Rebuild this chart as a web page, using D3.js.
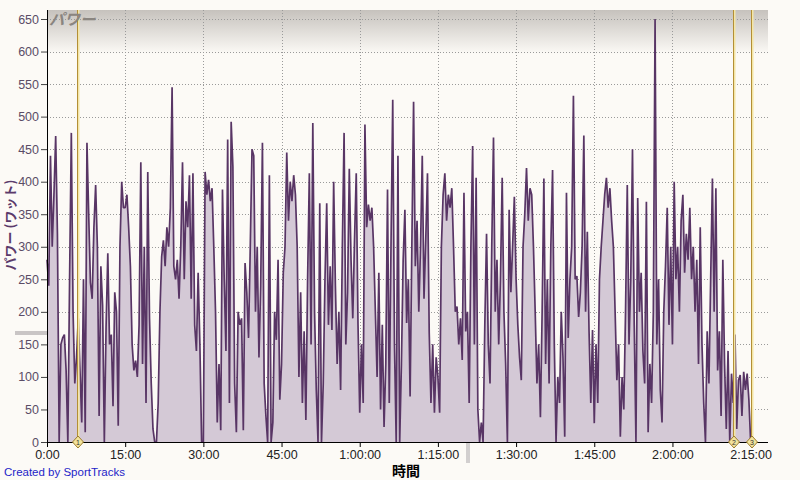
<!DOCTYPE html>
<html>
<head>
<meta charset="utf-8">
<script src="https://cdn.jsdelivr.net/npm/d3@7"></script>
<style>
  body { margin: 0; background: #fcfaf6; }
  svg { display: block; }
</style>
</head>
<body>
<script>
'use strict';

// power (watts), one sample every 20 s, one array per 15 minute block
const SAMPLE_SEC = 20;
const watts0 = [280,240,440,300,380,470,320,0,150,160,165,110,0,250,475,200,90,130,190,110,30,250,15,460,350,245,220,330,395,300,40,270,210,0,177,290,150,165,55,230,200,25,300,400,360];
const watts1 = [360,380,330,270,150,110,125,100,180,430,120,300,60,415,190,90,20,0,0,60,200,285,310,270,330,300,360,545,270,250,280,220,300,430,250,370,330,410,220,413,180,140,260,150,0];
const watts2 = [0,415,380,403,370,390,300,200,30,120,18,388,250,140,465,60,492,423,90,15,200,180,190,18,275,230,160,300,450,440,200,300,130,240,460,90,40,0,410,0,30,200,157,280,65];
const watts3 = [120,260,300,445,340,400,370,410,380,300,100,230,60,170,34,250,413,150,490,200,80,0,367,0,90,250,367,180,270,172,400,240,120,200,80,300,475,150,230,420,280,190,310,413,183];
const watts4 = [45,150,60,488,330,365,340,360,300,200,100,260,50,180,23,120,388,60,300,526,150,0,440,0,120,280,357,183,250,70,300,523,270,340,200,300,440,220,310,413,168,60,150,45,130];
const watts5 = [100,45,300,380,413,340,380,360,390,300,200,208,150,190,126,383,170,200,60,300,455,150,406,50,0,30,0,180,320,150,90,300,468,200,280,150,250,406,200,120,0,357,230,300,377];
const watts6 = [250,180,130,95,300,350,421,340,390,380,300,200,90,150,38,200,405,120,250,90,300,418,150,0,100,60,200,130,8,383,160,250,300,532,250,255,192,230,300,471,200,323,170,60,172];
const watts7 = [29,150,60,250,300,340,380,406,360,390,340,300,200,95,150,8,100,50,200,395,150,250,450,180,0,375,200,260,140,90,369,15,120,60,200,650,150,250,80,30,200,270,360,180,300];
const watts8 = [150,400,250,300,200,340,380,260,320,280,360,250,300,200,280,120,330,150,60,0,170,90,250,405,200,390,110,170,40,280,120,20,140,0,105,60,165,20,95,103,40,108,80,105,65,0];

// lap markers (seconds) and their numbers
const lapSeconds = [345, 7900, 8105];
const lapNames = ["1", "2", "3"];

// axis ticks
const yTicks = [0, 50, 100, 150, 200, 250, 300, 350, 400, 450, 500, 550, 600, 650];
const xTicks = [0, 900, 1800, 2700, 3600, 4500, 5400, 6300, 7200, 8100];
const xTickLabels = ["0:00", "15:00", "30:00", "45:00", "1:00:00", "1:15:00", "1:30:00", "1:45:00", "2:00:00", "2:15:00"];

const m = {
    width: 800,
    height: 480,
    left: 47,
    right: 768,
    top: 10,
    bottom: 442
}

const power = [watts0, watts1, watts2, watts3, watts4, watts5, watts6, watts7, watts8]
  .flat()
  .map((w, i) => ({ t: i * SAMPLE_SEC, w: w }));

const svg = d3.select('body')
  .append('svg')
  .attr('width', m.width)
  .attr('height', m.height);

const xScale = d3.scaleLinear()
  .domain([0, 8300])
  .range([m.left, m.right]);

const yScale = d3.scaleLinear()
  .domain([0, 650])
  .range([m.bottom, 19]);

// grey gradient across the top of the plot
const defs = svg.append('defs');
const grad = defs.append('linearGradient')
  .attr('id', 'head')
  .attr('x1', 0).attr('y1', 0).attr('x2', 0).attr('y2', 1);
grad.append('stop').attr('offset', '0%').attr('stop-color', '#c6c2bd');
grad.append('stop').attr('offset', '100%').attr('stop-color', '#fcfaf6');

svg.append('rect')
  .attr('x', m.left)
  .attr('y', m.top)
  .attr('width', m.right - m.left)
  .attr('height', 44)
  .attr('fill', 'url(#head)');

// dotted grid
svg.append('g')
  .selectAll('line')
  .data(yTicks.slice(1))
  .enter()
  .append('line')
  .attr('x1', m.left)
  .attr('x2', m.right)
  .attr('y1', d => Math.round(yScale(d)) + 0.5)
  .attr('y2', d => Math.round(yScale(d)) + 0.5)
  .attr('stroke', '#9a9a9a')
  .attr('stroke-dasharray', '1,2');

svg.append('g')
  .selectAll('line')
  .data(xTicks.slice(1))
  .enter()
  .append('line')
  .attr('x1', d => Math.round(xScale(d)) + 0.5)
  .attr('x2', d => Math.round(xScale(d)) + 0.5)
  .attr('y1', m.top)
  .attr('y2', m.bottom)
  .attr('stroke', '#9a9a9a')
  .attr('stroke-dasharray', '1,2');

// area + line of power
const area = d3.area()
  .x(d => xScale(d.t))
  .y0(yScale(0))
  .y1(d => yScale(d.w));

const line = d3.line()
  .x(d => xScale(d.t))
  .y(d => yScale(d.w));

svg.append('path')
  .datum(power)
  .attr('d', area)
  .attr('fill', '#d4c9d6');

svg.append('path')
  .datum(power)
  .attr('d', line)
  .attr('fill', 'none')
  .attr('stroke', '#583565')
  .attr('stroke-width', 1.7)
  .attr('stroke-linejoin', 'bevel');

// lap marker lines
const laps = svg.append('g');
laps.selectAll('.halo')
  .data(lapSeconds)
  .enter()
  .append('line')
  .attr('x1', d => Math.round(xScale(d)) + 1.5)
  .attr('x2', d => Math.round(xScale(d)) + 1.5)
  .attr('y1', m.top)
  .attr('y2', m.bottom)
  .attr('stroke', '#f4e6a6')
  .attr('stroke-width', 2);
laps.selectAll('.lap')
  .data(lapSeconds)
  .enter()
  .append('line')
  .attr('x1', d => Math.round(xScale(d)) + 0.5)
  .attr('x2', d => Math.round(xScale(d)) + 0.5)
  .attr('y1', m.top)
  .attr('y2', m.bottom)
  .attr('stroke', '#b38f36')
  .attr('stroke-width', 1);

// y axis
const yAxis = d3.axisLeft(yScale).tickValues(yTicks).tickSize(6).tickPadding(2).tickSizeOuter(0);
const gy = svg.append('g')
  .attr('transform', 'translate(' + m.left + ',0)')
  .call(yAxis);
gy.select('.domain').remove();
gy.selectAll('text')
  .style('font-family', '"Liberation Sans", Arial, sans-serif')
  .style('font-size', '12.5px')
  .attr('fill', '#5a4c66');
gy.selectAll('line').attr('stroke', '#444');

svg.append('line')
  .attr('x1', m.left + 0.5).attr('x2', m.left + 0.5)
  .attr('y1', m.top).attr('y2', m.bottom + 5)
  .attr('stroke', '#000');

// x axis
const xAxis = d3.axisBottom(xScale)
  .tickValues(xTicks)
  .tickFormat((d, i) => xTickLabels[i])
  .tickSize(5)
  .tickPadding(3)
  .tickSizeOuter(0);
const gx = svg.append('g')
  .attr('transform', 'translate(0,' + m.bottom + ')')
  .call(xAxis);
gx.select('.domain').remove();
gx.selectAll('text')
  .style('font-family', '"Liberation Sans", Arial, sans-serif')
  .style('font-size', '12.5px')
  .attr('fill', '#222');

svg.append('line')
  .attr('x1', m.left).attr('x2', m.right)
  .attr('y1', m.bottom + 0.5).attr('y2', m.bottom + 0.5)
  .attr('stroke', '#000');

// lap diamonds on the x axis
const diamonds = svg.append('g')
  .selectAll('g')
  .data(lapSeconds)
  .enter()
  .append('g')
  .attr('transform', d => 'translate(' + (Math.round(xScale(d)) + 1) + ',' + m.bottom + ')');
diamonds.append('path')
  .attr('d', 'M0,-6L5.5,0L0,6L-5.5,0Z')
  .attr('fill', '#f2e39c')
  .attr('stroke', '#9c7c2c');
diamonds.append('text')
  .attr('y', 2.5)
  .attr('text-anchor', 'middle')
  .style('font-family', '"Liberation Sans", Arial, sans-serif')
  .style('font-size', '7px')
  .attr('fill', '#333')
  .text((d, i) => lapNames[i]);

// splitter handles
svg.append('rect')
  .attr('x', 15).attr('y', 331).attr('width', 32).attr('height', 4)
  .attr('fill', '#c9c5c5');
svg.append('rect')
  .attr('x', 466).attr('y', 443).attr('width', 4).attr('height', 20)
  .attr('fill', '#d2cfcf');

// labels
svg.append('text')
  .attr('x', 49)
  .attr('y', 25)
  .style('font-family', '"Noto Sans CJK JP", sans-serif')
  .style('font-size', '15.5px')
  .style('font-style', 'italic')
  .style('font-weight', 'bold')
  .attr('fill', '#8a8580')
  .text('パワー');

svg.append('text')
  .attr('transform', 'translate(15, 225)rotate(-90)')
  .attr('text-anchor', 'middle')
  .style('font-family', '"Noto Sans CJK JP", sans-serif')
  .style('font-size', '13px')
  .style('font-weight', 'bold')
  .attr('fill', '#5b3a6b')
  .text('パワー (ワット)');

svg.append('text')
  .attr('x', 406)
  .attr('y', 476)
  .attr('text-anchor', 'middle')
  .style('font-family', '"Noto Sans CJK JP", sans-serif')
  .style('font-size', '14px')
  .style('font-weight', 'bold')
  .attr('fill', '#000')
  .text('時間');

svg.append('text')
  .attr('x', 4)
  .attr('y', 476)
  .style('font-family', '"Liberation Sans", Arial, sans-serif')
  .style('font-size', '11.5px')
  .attr('fill', '#2424c8')
  .text('Created by SportTracks');
</script>
</body>
</html>
